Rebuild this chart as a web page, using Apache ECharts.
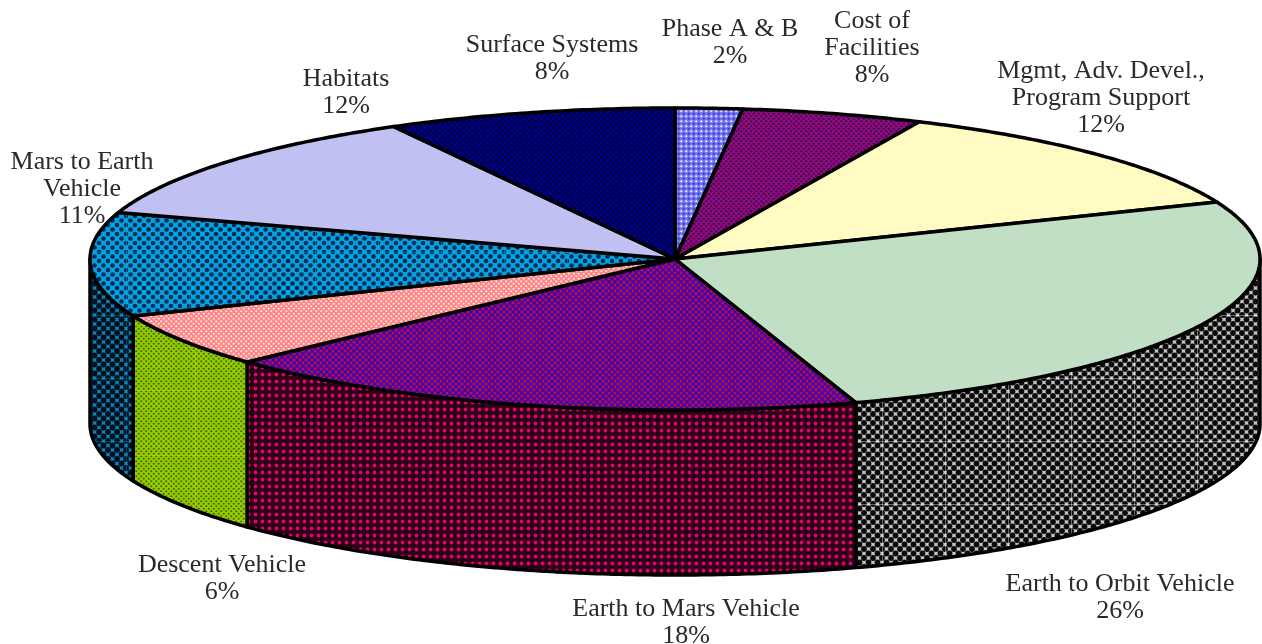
<!DOCTYPE html>
<html><head><meta charset="utf-8">
<style>html,body{margin:0;padding:0;background:#fff}#c{width:1262px;height:644px}</style>
<script src="https://cdn.jsdelivr.net/npm/echarts@6/dist/echarts.min.js"></script>
</head><body><div id="c"></div>
<script>
const categories = ['Phase A & B','Cost of\nFacilities','Mgmt, Adv. Devel.,\nProgram Support','Earth to Orbit Vehicle','Earth to Mars Vehicle','Descent Vehicle','Mars to Earth\nVehicle','Habitats','Surface Systems'];
const labelPercents = [2,8,12,26,18,6,11,12,8];
const sliceShares = [1.85,5.01,11.99,26.15,18.06,5.79,11.13,12.04,7.98];
const labelCenters = [[730,43],[872,48],[1101,98],[1120,598],[686,623],[222,579],[82,189],[346,93],[552,59]];

const CX=675, CY=259, RX=585, RY=151, DEPTH=165;

function tile(period, bg, dots, seam){
  const n=Math.max(1,Math.round(63/period));
  const c=document.createElement('canvas');
  c.width=n*period; c.height=n*period;
  const g=c.getContext('2d');
  g.fillStyle=bg; g.fillRect(0,0,c.width,c.height);
  for(let i=-1;i<=n;i++)for(let j=-1;j<=n;j++)for(const d of dots){
    g.fillStyle=d[3]; g.beginPath();
    g.arc((i+d[0])*period,(j+d[1])*period,d[2],0,Math.PI*2); g.fill();
  }
  if(seam){g.fillStyle=seam;g.fillRect(0,0,1,c.height);g.fillRect(0,0,c.width,1);}
  return {image:c,repeat:'repeat'};
}
const flat=c=>c;
const topFills=[
  tile(5,'#7474ee',[[.25,.25,1.1,'#eeeeff'],[.75,.75,1.1,'#3434dc']]),
  tile(5,'#980a6c',[[.25,.25,1.1,'#1a0a78'],[.75,.75,1.1,'#1a0a78']]),
  flat('#fffbc2'),
  flat('#c0dfc4'),
  tile(6,'#2400d8',[[0,0,1.7,'#c01030'],[.5,.5,1.7,'#c01030']]),
  tile(5,'#ff8484',[[.25,.25,1.1,'#ffe8e8'],[.75,.75,1.1,'#ffe8e8']]),
  tile(9,'#00a4e4',[[0,0,2.3,'#0b2a50'],[.5,.5,2.3,'#0b2a50']],'rgba(0,170,245,0.45)'),
  flat('#c0c0f2'),
  tile(6,'#000088',[[.25,.25,1.4,'#000030'],[.75,.75,1.4,'#000030']]),
];
const sideFills=[
  null,null,null,
  tile(9,'#c4c4c4',[[0,0,2.9,'#0a0a0a'],[.5,.5,2.9,'#0a0a0a']],'rgba(255,255,255,0.4)'),
  tile(7,'#2a0018',[[.5,.5,1.9,'#e8006c']]),
  tile(5,'#98cc00',[[.25,.25,1.1,'#3f6a00'],[.75,.75,1.1,'#3f6a00']],'rgba(216,224,0,0.4)'),
  tile(9,'#0a84b8',[[0,0,2.9,'#03101c'],[.5,.5,2.9,'#03101c']],'rgba(0,160,224,0.35)'),
  null,null
];

let totalShare=sliceShares.reduce((a,b)=>a+b,0);
const bounds=[];let run=0;
sliceShares.forEach(v=>{bounds.push([run/totalShare*2*Math.PI,(run+v)/totalShare*2*Math.PI]);run+=v;});

const pt=(t,dy)=>[CX+RX*Math.sin(t),CY-RY*Math.cos(t)+(dy||0)];
function arcPts(a,b,dy){const n=Math.max(2,Math.ceil((b-a)/0.01));const r=[];for(let i=0;i<=n;i++)r.push(pt(a+(b-a)*i/n,dy));return r;}

function renderItem(params){
  const i=params.dataIndex, [a,b]=bounds[i];
  const kids=[];
  const fs=Math.max(a,Math.PI/2), fe=Math.min(b,Math.PI*1.5);
  if(fe>fs && sideFills[i]){
    const up=arcPts(fs,fe,0), lo=arcPts(fs,fe,DEPTH).reverse();
    kids.push({type:'polygon',z2:1,shape:{points:up.concat(lo)},style:{fill:sideFills[i],stroke:'#000',lineWidth:3.5,lineJoin:'round'}});
  }
  kids.push({type:'polygon',z2:5,shape:{points:[[CX,CY]].concat(arcPts(a,b,0))},style:{fill:topFills[i],stroke:'#000',lineWidth:3.5,lineJoin:'round'}});
  return {type:'group',children:kids};
}

const chart=echarts.init(document.getElementById('c'),null,{renderer:'canvas'});
chart.setOption({
  animation:false,
  backgroundColor:'#fff',
  series:[{type:'custom',coordinateSystem:'none',silent:true,renderItem,
    data:sliceShares.map((v,i)=>({name:categories[i],value:v}))}],
  graphic:categories.map((n,i)=>({type:'text',x:labelCenters[i][0],y:labelCenters[i][1],z:10,silent:true,
    style:{text:n+'\n'+labelPercents[i]+'%',font:'26px "Liberation Serif"',lineHeight:27,fill:'#2a2a2a',align:'center',verticalAlign:'middle'}}))
});
</script></body></html>
